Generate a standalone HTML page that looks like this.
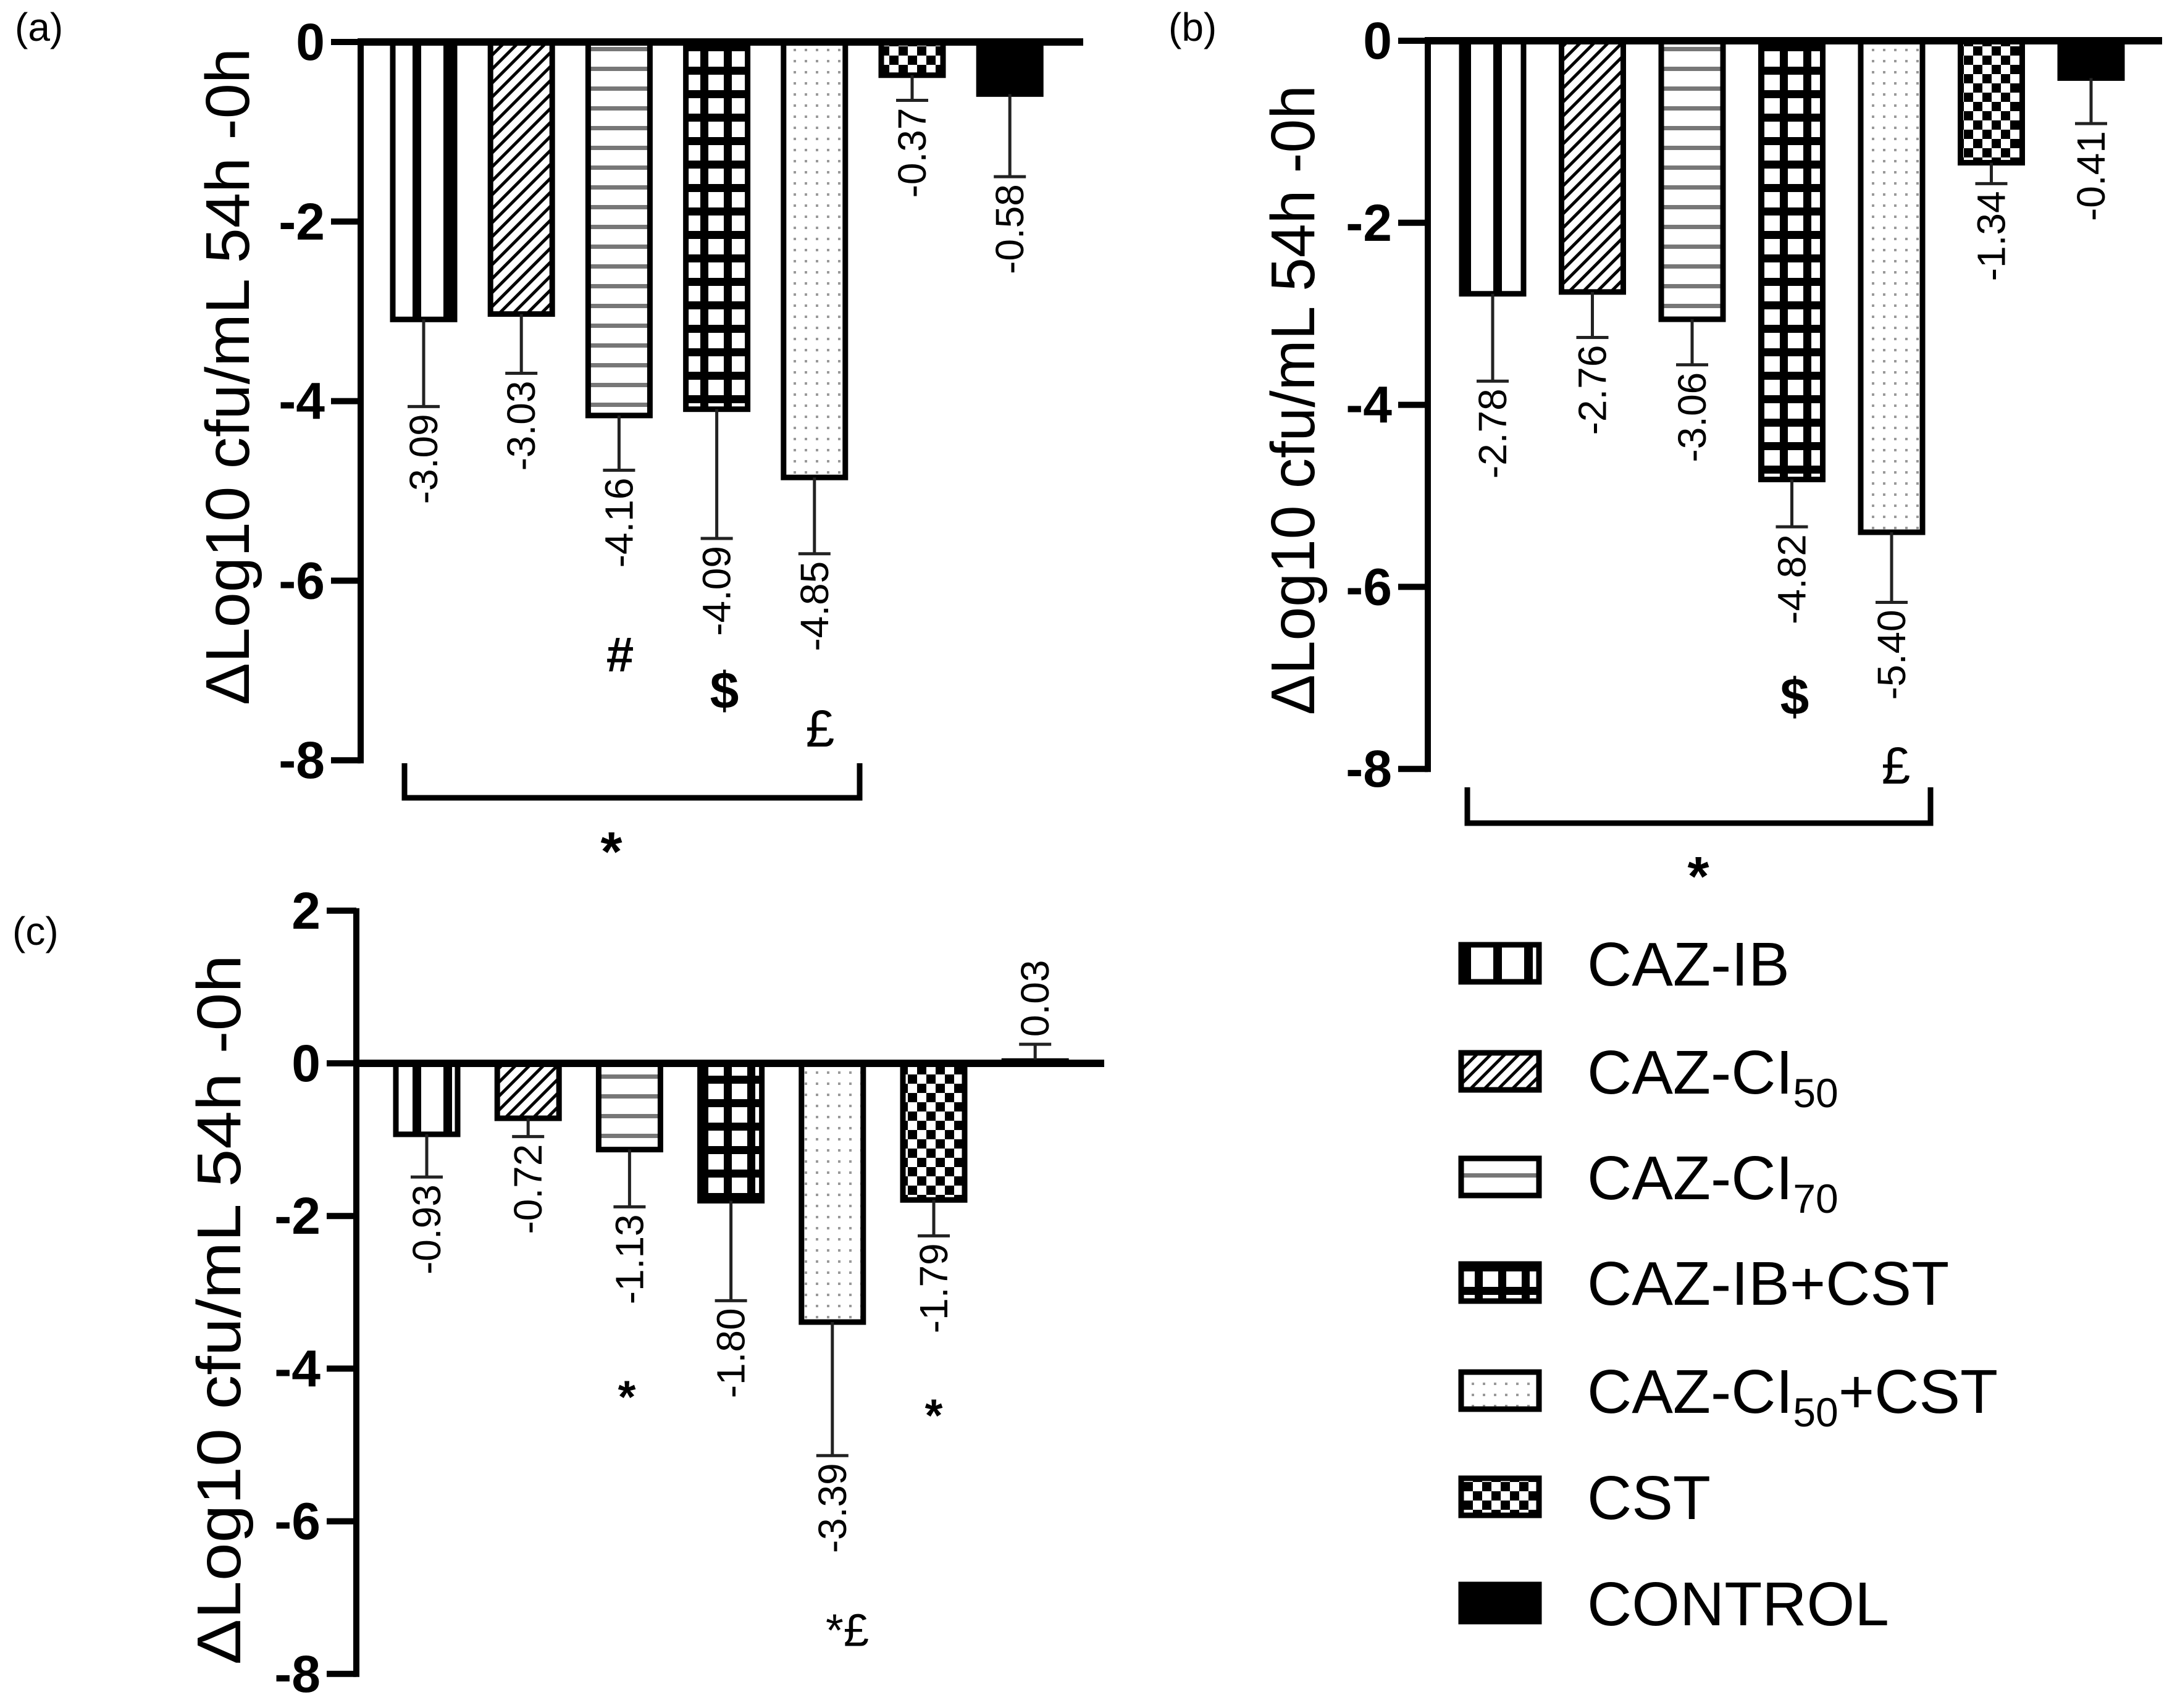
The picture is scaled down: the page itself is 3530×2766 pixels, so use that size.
<!DOCTYPE html>
<html><head><meta charset="utf-8"><style>
html,body{margin:0;padding:0;background:#fff;}
svg{display:block;font-family:"Liberation Sans",Arial,sans-serif;}
</style></head><body>
<svg id="fig" width="3530" height="2766" viewBox="0 0 3530 2766" xmlns="http://www.w3.org/2000/svg">
<defs>
<pattern id="p0" patternUnits="userSpaceOnUse" width="50" height="50"><rect width="50" height="50" fill="#fff"/><rect x="18" width="14" height="50" fill="#000"/></pattern>
<pattern id="p1" patternUnits="userSpaceOnUse" width="16" height="16" patternTransform="rotate(45)"><rect width="16" height="16" fill="#fff"/><rect width="5" height="16" fill="#000"/></pattern>
<pattern id="p2" patternUnits="userSpaceOnUse" width="40" height="32"><rect width="40" height="32" fill="#fff"/><rect y="12" width="40" height="7" fill="#777"/></pattern>
<pattern id="p3" patternUnits="userSpaceOnUse" width="38" height="38"><rect width="38" height="38" fill="#000"/><rect x="7" y="7" width="25" height="25" fill="#fff"/></pattern>
<pattern id="p4" patternUnits="userSpaceOnUse" width="18" height="18"><rect width="18" height="18" fill="#fff"/><rect x="7" y="7" width="4" height="4" fill="#999"/></pattern>
<pattern id="p5" patternUnits="userSpaceOnUse" width="30" height="30"><rect width="30" height="30" fill="#fff"/><rect width="15" height="15" fill="#000"/><rect x="15" y="15" width="15" height="15" fill="#000"/></pattern>
<pattern id="p6" patternUnits="userSpaceOnUse" width="10" height="10"><rect width="10" height="10" fill="#000"/></pattern>
</defs>
<g id="root"></g>
</svg>
<script>
const categories = ["CAZ-IB","CAZ-CI50","CAZ-CI70","CAZ-IB+CST","CAZ-CI50+CST","CST","CONTROL"];
const valuesA = [-3.09,-3.03,-4.16,-4.09,-4.85,-0.37,-0.58];
const errorsA = [0.97,0.66,0.61,1.44,0.85,0.28,0.92];
const labelsA = ["-3.09","-3.03","-4.16","-4.09","-4.85","-0.37","-0.58"];
const valuesB = [-2.78,-2.76,-3.06,-4.82,-5.40,-1.34,-0.41];
const errorsB = [0.96,0.50,0.50,0.52,0.77,0.23,0.50];
const labelsB = ["-2.78","-2.76","-3.06","-4.82","-5.40","-1.34","-0.41"];
const valuesC = [-0.93,-0.72,-1.13,-1.80,-3.39,-1.79,0.03];
const errorsC = [0.56,0.24,0.75,1.31,1.75,0.47,0.22];
const labelsC = ["-0.93","-0.72","-1.13","-1.80","-3.39","-1.79","0.03"];
const ticksAB = [0,-2,-4,-6,-8];
const ticksC = [2,0,-2,-4,-6,-8];

const NS="http://www.w3.org/2000/svg";
const root=document.getElementById('root');
function mk(tag,attrs,parent){const e=document.createElementNS(NS,tag);for(const k in attrs)e.setAttribute(k,attrs[k]);(parent||root).appendChild(e);return e;}

function panel(id,cfg,values,errors,labels,ticks){
  const g=mk('g',{});
  
  
  const y=v=>cfg.zeroY - v*cfg.unit;
  const x=i=>cfg.x0 + i*cfg.step;
  const bw=100;
  values.forEach((v,i)=>{
    const top=Math.min(y(0),y(v)), h=Math.abs(y(v)-y(0));
    const r=mk('rect',{x:x(i)-bw/2,y:top,width:bw,height:h,fill:'url(#p'+i+')',stroke:'#000','stroke-width':9},g);
    
    
    const dir=v>=0?1:-1;
    const e=v+dir*errors[i];
    const ln=mk('path',{d:`M${x(i)} ${y(v)} V${y(e)} M${x(i)-26} ${y(e)} H${x(i)+26}`,stroke:'#222','stroke-width':5,fill:'none'},g);
    
    
    const ty=y(e)-dir*12;
    const t=mk('text',{transform:`translate(${x(i)},${ty}) rotate(-90)`,'text-anchor':dir<0?'end':'start','dominant-baseline':'central','font-size':cfg.lfs},g);
    t.textContent=labels[i];
    
    
  });
  const z=mk('line',{x1:cfg.ax-5,y1:y(0),x2:cfg.end,y2:y(0),stroke:'#000','stroke-width':12},g);
  
  
  const ax=mk('line',{x1:cfg.ax,y1:y(ticks[0])-4,x2:cfg.ax,y2:y(ticks[ticks.length-1])+5,stroke:'#000','stroke-width':10},g);
  
  
  ticks.forEach(tv=>{
    const tk=mk('line',{x1:cfg.ax-48,y1:y(tv),x2:cfg.ax,y2:y(tv),stroke:'#000','stroke-width':10},g);
    
    
    const tl=mk('text',{x:cfg.ax-58,y:y(tv),'text-anchor':'end','dominant-baseline':'central','font-size':cfg.tfs,'font-weight':'bold'},g);
    tl.textContent=String(tv);
    
    
  });
  const ti=mk('text',{transform:`translate(${cfg.tx},${cfg.ty}) rotate(-90)`,'text-anchor':'middle','font-size':100,textLength:cfg.tl,lengthAdjust:'spacingAndGlyphs'},g);
  ti.textContent='ΔLog10 cfu/mL 54h -0h';
  
  
  const pl=mk('text',{x:cfg.px,y:cfg.py,'font-size':64},g);
  pl.textContent='('+id+')';
  
  
  return g;
}
const gA=panel('a',{ax:584,zeroY:68,unit:145.4,x0:686,step:158.2,end:1754,lfs:64,tfs:84,tx:403,ty:610,tl:1064,px:24,py:66},valuesA,errorsA,labelsA,ticksAB);
const gB=panel('b',{ax:2312,zeroY:66,unit:147.4,x0:2417,step:161.5,end:3501,lfs:64,tfs:84,tx:2128,ty:648,tl:1020,px:1892,py:66},valuesB,errorsB,labelsB,ticksAB);
const gC=panel('c',{ax:577,zeroY:1722,unit:123.6,x0:691,step:164.2,end:1788,lfs:64,tfs:84,tx:389,ty:2121,tl:1150,px:20,py:1530},valuesC,errorsC,labelsC,ticksC);

function txt(s,x,y,fs,bold,name,parent){
  const t=mk('text',{x:x,y:y,'text-anchor':'middle','dominant-baseline':'central','font-size':fs,'font-weight':bold?'bold':'normal'},parent);
  t.textContent=s;
  
  
  return t;
}
function bracket(x1,x2,y1,y2,name,parent){
  const p=mk('path',{d:`M${x1} ${y1} V${y2} H${x2} V${y1}`,stroke:'#000','stroke-width':9,fill:'none'},parent);
  
  
}
bracket(655,1392,1236,1292,'significance-bracket-a',gA);
txt('*',990,1380,90,true,'significance-star-a',gA);
txt('#',1004,1060,80,true,'annotation-hash',gA);
txt('$',1173,1118,84,true,'annotation-dollar',gA);
txt('£',1328,1180,84,false,'annotation-pound',gA);
bracket(2376,3126,1275,1333,'significance-bracket-b',gB);
txt('*',2750,1420,90,true,'significance-star-b',gB);
txt('$',2906,1128,84,true,'annotation-dollar',gB);
txt('£',3070,1240,84,false,'annotation-pound',gB);
txt('*',1015,2262,74,true,'annotation-star',gC);
txt('*',1512,2292,74,true,'annotation-star',gC);
txt('*£',1372,2640,74,false,'annotation-star-pound',gC);

const legend=mk('g',{});


const legendY=[1560,1735,1906,2077,2252,2424,2596];
const legendText=[["CAZ-IB",""],["CAZ-CI","50"],["CAZ-CI","70"],["CAZ-IB+CST",""],["CAZ-CI","50","+CST"],["CST",""],["CONTROL",""]];
categories.forEach((c,i)=>{
  const r=mk('rect',{x:2366,y:legendY[i]-30,width:126,height:60,fill:'url(#p'+i+')',stroke:'#000','stroke-width':9},legend);
  
  
  const t=mk('text',{x:2570,y:legendY[i]+36,'font-size':100},legend);
  
  
  const parts=legendText[i];
  const s1=mk('tspan',{},t); s1.textContent=parts[0];
  if(parts[1]){const s2=mk('tspan',{'font-size':66,dy:22},t); s2.textContent=parts[1];}
  if(parts[2]){const s3=mk('tspan',{dy:-22},t); s3.textContent=parts[2];}
});
</script>
</body></html>
